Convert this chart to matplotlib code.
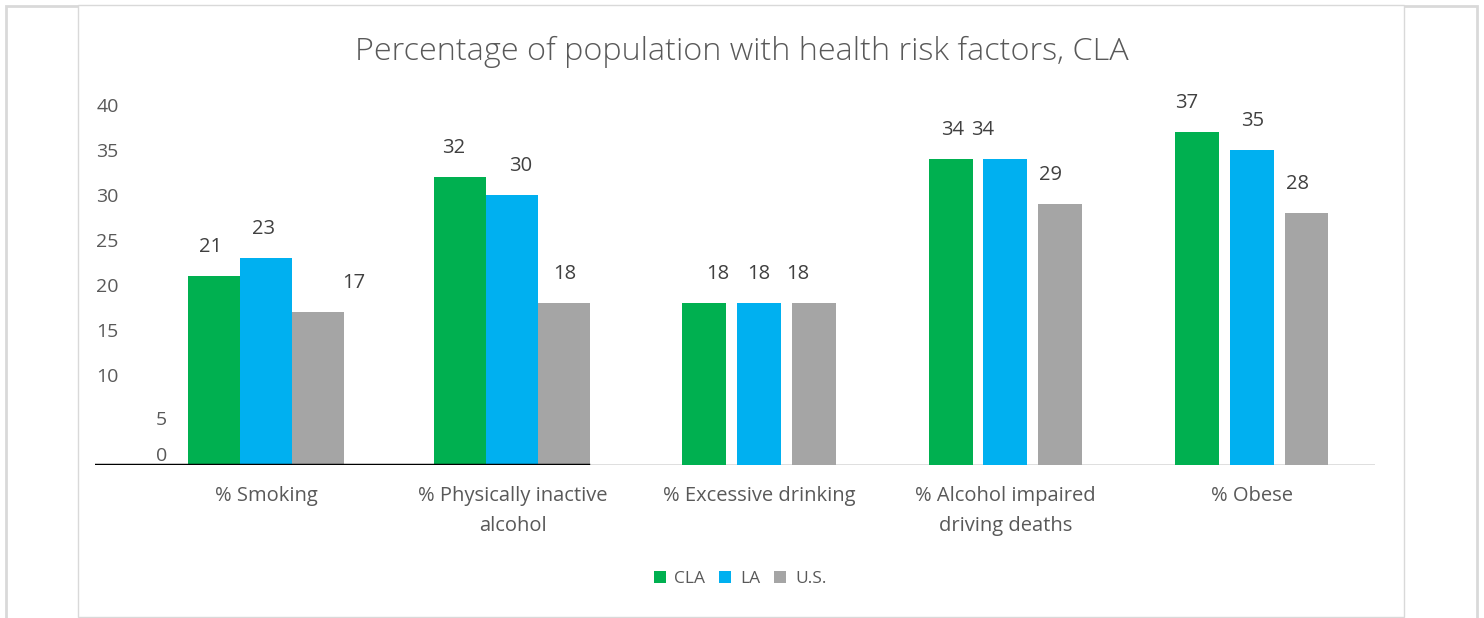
import matplotlib.pyplot as plt
import numpy as np
from matplotlib.patches import Rectangle

categories = [
    "% Smoking",
    "% Physically inactive\nalcohol",
    "% Excessive drinking",
    "% Alcohol impaired\ndriving deaths",
    "% Obese",
]
series_names = ["CLA", "LA", "U.S."]
cla = [21, 32, 18, 34, 37]
la = [23, 30, 18, 34, 35]
us = [17, 18, 18, 29, 28]
y_ticks = [10, 15, 20, 25, 30, 35, 40]

colours = ["#00B050", "#00B0F0", "#A5A5A5"]
# the first two groups have wider, touching bars in the original
step = np.array([0.211, 0.211, 0.222, 0.222, 0.222])
width = np.array([0.211, 0.211, 0.178, 0.178, 0.178])
# small horizontal nudges (pixels) of the value labels
label_dx = [
    [-3, -7, 14, 2, -10],
    [-2, 8, 0, -23, 1],
    [36, 0, -16, -10, -9],
]

fig = plt.figure(figsize=(14.84, 6.18), dpi=100)
W, H = 1484, 618

# page frame
fig.add_artist(Rectangle((6 / W, -0.01), (1477 - 6) / W, 1 - 6 / H + 0.01,
                         transform=fig.transFigure, fill=False,
                         edgecolor="#d9d9d9", linewidth=2, zorder=-10))
fig.add_artist(Rectangle((78 / W, 1 - 617 / H), (1404 - 78) / W, (617 - 5) / H,
                         transform=fig.transFigure, facecolor="white",
                         edgecolor="#d9d9d9", linewidth=1, zorder=-9))

ax = fig.add_axes([95 / W, 1 - 465 / H, 1280 / W, 360 / H])
ax.patch.set_alpha(0)

x = np.arange(len(categories))
for i, (name, vals) in enumerate(zip(series_names, [cla, la, us])):
    xs = x + (i - 1) * step
    bars = ax.bar(xs, vals, width=width, color=colours[i], label=name, zorder=2)
    for j, (b, v) in enumerate(zip(bars, vals)):
        ax.annotate(
            f"{v}",
            (b.get_x() + b.get_width() / 2, v),
            xytext=(label_dx[i][j], 19),
            textcoords="offset pixels",
            ha="center",
            va="bottom",
            fontsize=14.5,
            color="#404040",
            family="Open Sans",
        )

ax.set_xlim(-0.694, 4.5)
ax.set_ylim(0, 40)
for s in ax.spines.values():
    s.set_visible(False)
ax.axhline(0, color="#d9d9d9", linewidth=1.2, zorder=1)
ax.axhline(0, xmin=0, xmax=(588 - 95) / 1280, color="black", linewidth=2.5, zorder=3)

ax.set_yticks(y_ticks)
ax.set_yticklabels([str(t) for t in y_ticks])
ax.tick_params(axis="y", length=0, pad=-17, labelsize=14, labelcolor="#595959")
ax.text(0.052, 5, "5", transform=ax.get_yaxis_transform(), ha="center",
        va="center", fontsize=14, color="#595959", family="Open Sans")
ax.text(0.052, 1, "0", transform=ax.get_yaxis_transform(), ha="center",
        va="center", fontsize=14, color="#595959", family="Open Sans")

ax.set_xticks(x)
ax.set_xticklabels(categories)
ax.tick_params(axis="x", length=0, pad=15, labelsize=14.5, labelcolor="#595959")
for t in ax.get_xticklabels() + ax.get_yticklabels():
    t.set_family("Open Sans")
for t in ax.get_xticklabels():
    t.set_linespacing(1.65)
    t.set_va("top")

fig.text(742 / W, 1 - 52 / H, "Percentage of population with health risk factors, CLA",
         ha="center", va="center", fontsize=23.3, color="#595959",
         family="Open Sans", fontweight="light")

fig.legend(
    loc="center",
    bbox_to_anchor=(740 / W, 1 - 579 / H),
    ncol=3,
    frameon=False,
    handlelength=0.7,
    handleheight=0.7,
    handletextpad=0.5,
    columnspacing=0.8,
    prop={"family": "Open Sans", "size": 12.5},
    labelcolor="#595959",
)

fig.savefig("out.png", dpi=100)
